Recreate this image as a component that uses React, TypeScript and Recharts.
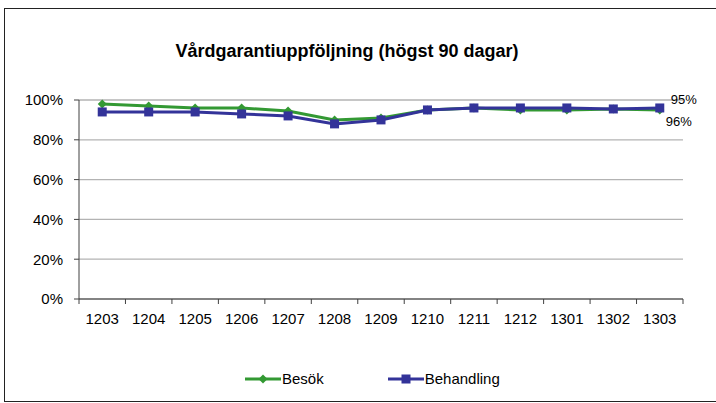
import { CartesianGrid, LabelList, Line, LineChart, XAxis, YAxis } from "recharts";

const months = ["1203", "1204", "1205", "1206", "1207", "1208", "1209", "1210", "1211", "1212", "1301", "1302", "1303"];
const besok = [98, 97, 96, 96, 94.5, 90, 91, 95, 96, 95, 95, 95.5, 95];
const behandling = [94, 94, 94, 93, 92, 88, 90, 95, 96, 96, 96, 95.5, 96];
const yTicks = [0, 20, 40, 60, 80, 100];

const data = months.map((m, i) => ({ month: m, besok: besok[i], behandling: behandling[i] }));

const GREEN = "#339933";
const BLUE = "#333399";
const FONT = "'Liberation Sans', Arial, sans-serif";
const AXIS_Y = 299;
const HALF_BAND = 23.23;

function Diamond({ cx, cy }: any) {
  return <path d={`M${cx},${cy - 4.5}L${cx + 4.5},${cy}L${cx},${cy + 4.5}L${cx - 4.5},${cy}Z`} fill={GREEN} />;
}

function Square({ cx, cy }: any) {
  return <rect x={cx - 4.5} y={cy - 4.5} width={9} height={9} fill={BLUE} />;
}

function MonthTick({ x, y, payload, index }: any) {
  return (
    <g>
      <line x1={x - HALF_BAND} x2={x - HALF_BAND} y1={AXIS_Y} y2={AXIS_Y + 5} stroke="#404040" />
      {index === months.length - 1 && (
        <line x1={x + HALF_BAND} x2={x + HALF_BAND} y1={AXIS_Y} y2={AXIS_Y + 5} stroke="#404040" />
      )}
      <text x={x} y={y + 25} textAnchor="middle" fontSize={15} fill="#000" fontFamily={FONT}>
        {payload.value}
      </text>
    </g>
  );
}

const lastLabel = (dx: number, dy: number) => (props: any) => {
  const { x, y, value, index } = props;
  if (index !== months.length - 1) return null;
  return (
    <text x={x + dx} y={y + dy} fontSize={13} fill="#000" fontFamily={FONT} dominantBaseline="central">
      {`${Math.round(value)}%`}
    </text>
  );
};

function LegendItem({ color, label, marker }: { color: string; label: string; marker: "diamond" | "square" }) {
  return (
    <span style={{ display: "inline-flex", alignItems: "center" }}>
      <svg width={36} height={12}>
        <line x1={0} x2={36} y1={6} y2={6} stroke={color} strokeWidth={3} />
        {marker === "diamond" ? (
          <path d="M18,1.5L22.5,6L18,10.5L13.5,6Z" fill={color} />
        ) : (
          <rect x={13.5} y={1.5} width={9} height={9} fill={color} />
        )}
      </svg>
      <span style={{ marginLeft: 1 }}>{label}</span>
    </span>
  );
}

export default function App() {
  return (
    <div style={{ position: "absolute", left: 0, top: 0, width: 716, height: 403, overflow: "hidden", background: "#fff", fontFamily: FONT }}>
      <div style={{ position: "absolute", left: 4, top: 8, width: 740, height: 394, border: "1px solid #222", boxSizing: "border-box" }} />
      <div style={{ position: "absolute", left: 0, width: 694, top: 41, textAlign: "center", fontWeight: "bold", fontSize: 18, color: "#000" }}>
        Vårdgarantiuppföljning (högst 90 dagar)
      </div>
      <LineChart width={716} height={403} data={data} margin={{ top: 100, right: 33, bottom: 74, left: 0 }} style={{ position: "absolute", left: 0, top: 0 }}>
        <CartesianGrid vertical={false} stroke="#b3b3b3" strokeWidth={1.3} />
        <XAxis
          dataKey="month"
          height={30}
          padding={{ left: HALF_BAND, right: HALF_BAND }}
          tickLine={false}
          tickSize={0}
          tickMargin={0}
          stroke="#404040"
          interval={0}
          tick={<MonthTick />}
        />
        <YAxis
          width={79}
          domain={[0, 100]}
          ticks={yTicks}
          tickFormatter={(v) => `${v}%`}
          tickSize={5}
          tickMargin={11}
          stroke="#404040"
          tick={{ fontSize: 15, fill: "#000", fontFamily: FONT }}
        />
        <Line dataKey="besok" name="Besök" stroke={GREEN} strokeWidth={3} dot={<Diamond />} isAnimationActive={false}>
          <LabelList dataKey="besok" content={lastLabel(11, -10)} />
        </Line>
        <Line dataKey="behandling" name="Behandling" stroke={BLUE} strokeWidth={3} dot={<Square />} isAnimationActive={false}>
          <LabelList dataKey="behandling" content={lastLabel(6, 14)} />
        </Line>
      </LineChart>
      <div style={{ position: "absolute", left: 245, top: 370, fontSize: 15, color: "#000", display: "flex", gap: 64 }}>
        <LegendItem color={GREEN} label="Besök" marker="diamond" />
        <LegendItem color={BLUE} label="Behandling" marker="square" />
      </div>
    </div>
  );
}
